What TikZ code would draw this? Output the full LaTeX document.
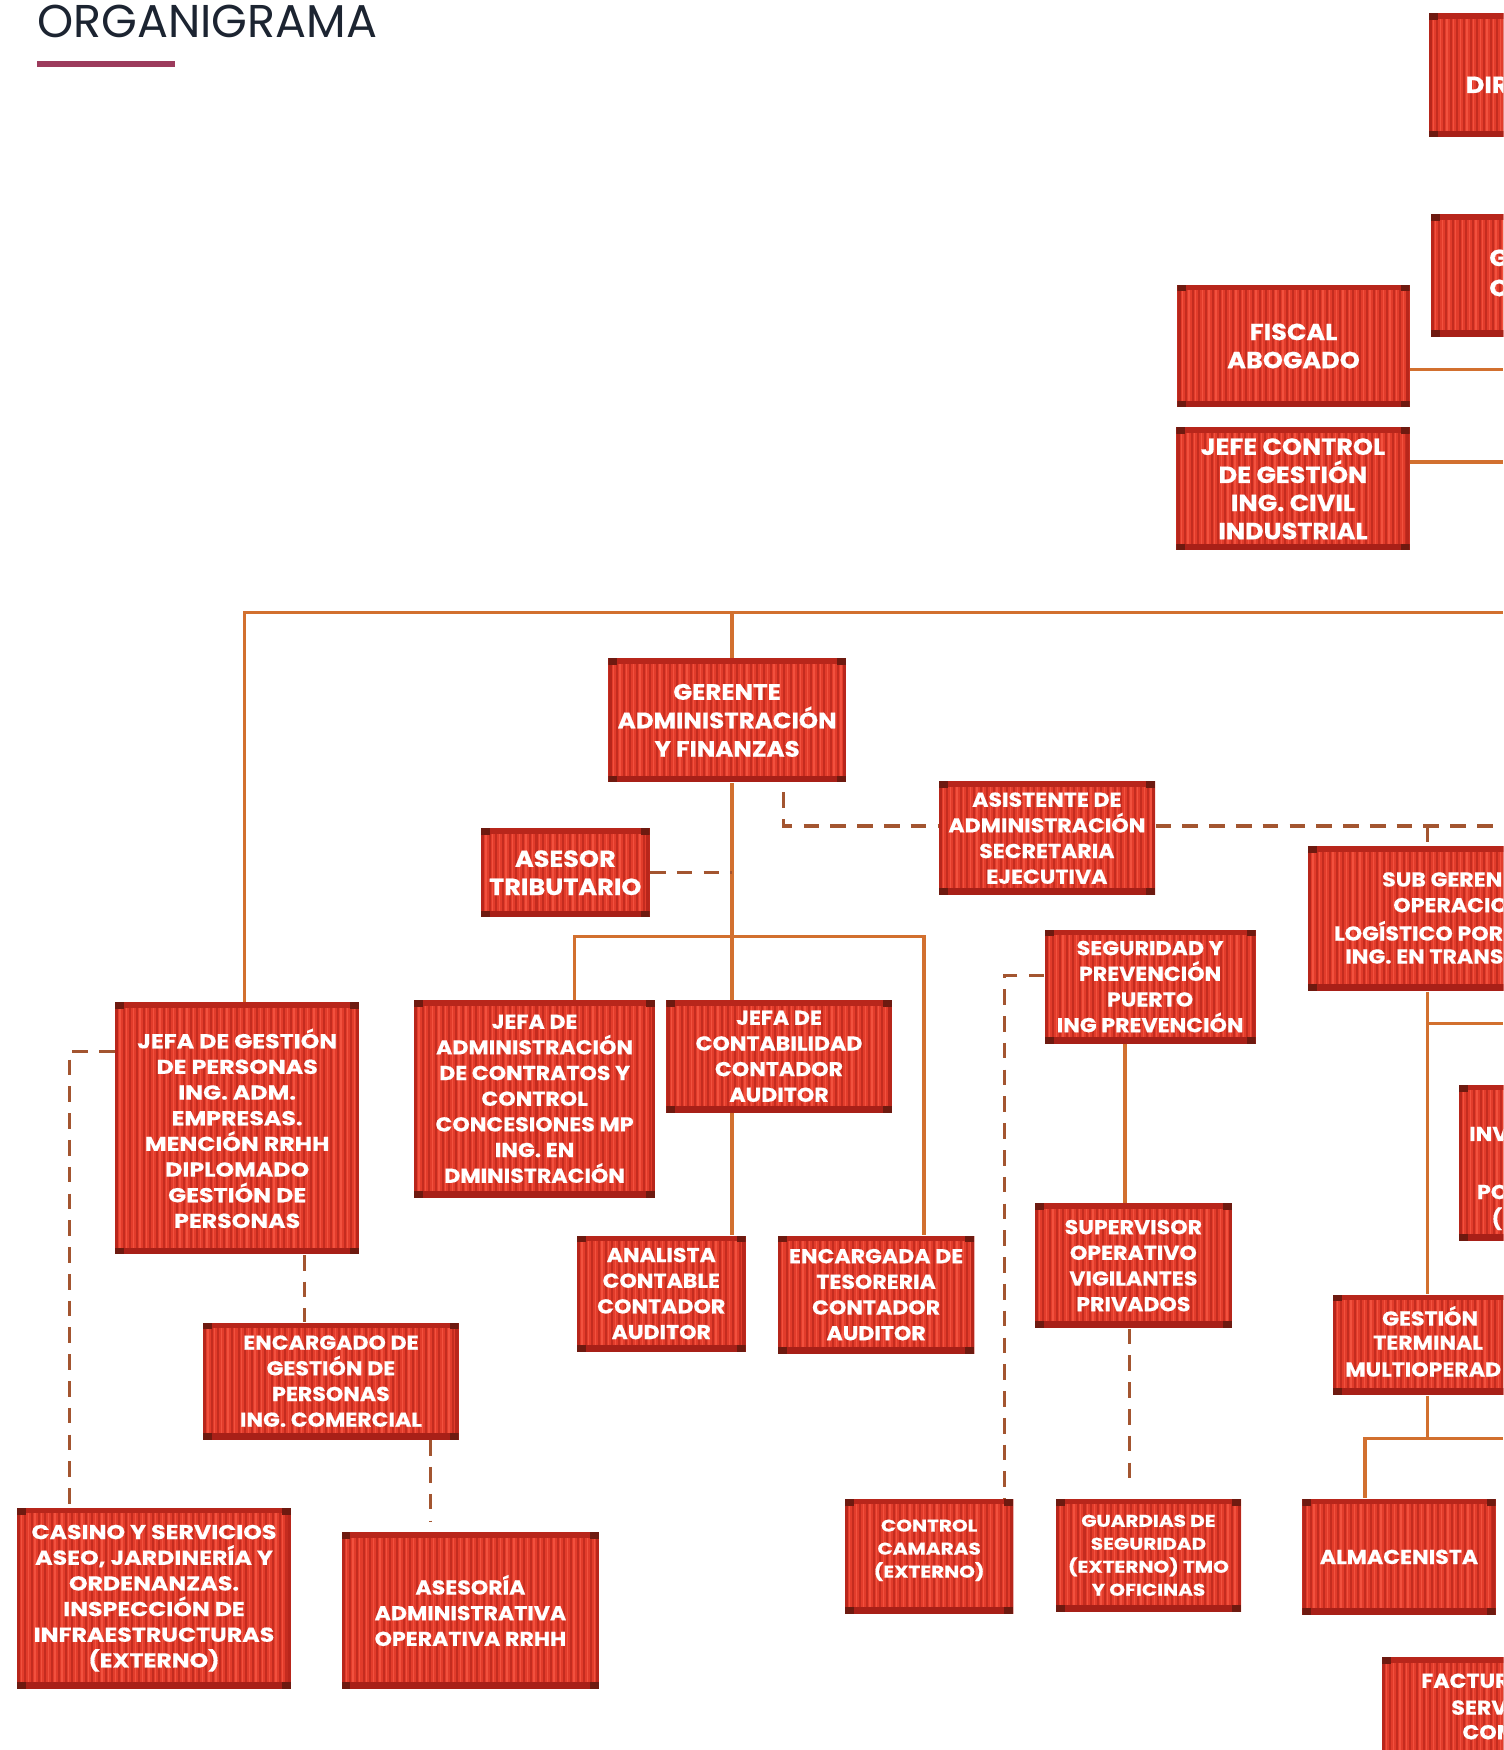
\documentclass[tikz,border=0pt]{standalone}
\usepackage{fontspec}
\setmainfont{Poppins}
\newfontfamily\boxfont{Poppins}[FakeStretch=1.1,BoldFeatures={FakeBold=0.5}]
\newfontfamily\boxfontw{Poppins}[FakeStretch=1.18,BoldFeatures={FakeBold=0.5}]
\usetikzlibrary{calc}
\definecolor{cFill}{HTML}{E23C2B}
\definecolor{cDark}{HTML}{C42C1F}
\definecolor{cLight}{HTML}{F2513E}
\definecolor{cTop}{HTML}{B8261B}
\definecolor{cBot}{HTML}{A82018}
\definecolor{cCorner}{HTML}{6E1A10}
\definecolor{cLine}{HTML}{D2702F}
\definecolor{cDash}{HTML}{A35530}
\definecolor{cTitle}{HTML}{1C2431}
\definecolor{cBar}{HTML}{9C3B5C}
\newcommand\cbox[7][]{%
  \node[cont,#1,minimum width={(#5-#3)*0.5pt},minimum height={(#6-#4)*0.5pt}] (#2) at ({(#3+#5)/2},{(#4+#6)/2}) {#7};}
\tikzset{
  cont/.style={draw=none, fill=cFill, inner sep=0pt, align=center, text=white,
    font=\boxfont\bfseries\fontsize{9}{11.5}\selectfont,
    path picture={
      \foreach \k in {0,...,46}{
        \fill[cDark] ($(path picture bounding box.south west)+(\k*3pt+0.4pt,0)$) rectangle ($(path picture bounding box.north west)+(\k*3pt+1.3pt,0)$);
        \fill[cLight] ($(path picture bounding box.south west)+(\k*3pt+1.9pt,0)$) rectangle ($(path picture bounding box.north west)+(\k*3pt+2.5pt,0)$);
      }
      \fill[cTop] (path picture bounding box.north west) rectangle ($(path picture bounding box.north east)+(0,-2.5pt)$);
      \fill[cBot] (path picture bounding box.south west) rectangle ($(path picture bounding box.south east)+(0,3pt)$);
      \fill[cTop] (path picture bounding box.south west) rectangle ($(path picture bounding box.north west)+(1.5pt,0)$);
      \fill[cTop] (path picture bounding box.south east) rectangle ($(path picture bounding box.north east)+(-1.5pt,0)$);
      \fill[cCorner] (path picture bounding box.north west) rectangle ($(path picture bounding box.north west)+(4pt,-3pt)$);
      \fill[cCorner] (path picture bounding box.north east) rectangle ($(path picture bounding box.north east)+(-4pt,-3pt)$);
      \fill[cCorner] (path picture bounding box.south west) rectangle ($(path picture bounding box.south west)+(4pt,3pt)$);
      \fill[cCorner] (path picture bounding box.south east) rectangle ($(path picture bounding box.south east)+(-4pt,3pt)$);
    }},
  big/.style={font=\boxfont\bfseries\fontsize{10.4}{12.6}\selectfont},
  ger/.style={font=\boxfont\bfseries\fontsize{10}{12.75}\selectfont},
  wide/.style={font=\boxfontw\bfseries\fontsize{9}{11.5}\selectfont},
  small/.style={font=\boxfontw\bfseries\fontsize{7.6}{10.3}\selectfont},
  frag/.style={anchor=west, inner sep=0pt, text=white, font=\boxfont\bfseries\fontsize{9}{11.5}\selectfont},
  fragbig/.style={frag, font=\boxfont\bfseries\fontsize{10.4}{12.6}\selectfont},
  conn/.style={draw=cLine, line width=1.5pt},
  dconn/.style={draw=cDash, line width=1.5pt, dash pattern=on 7pt off 5pt},
}
\begin{document}
\begin{tikzpicture}[x=0.5pt,y=-0.5pt]
\useasboundingbox (0,0) rectangle (1347,1568);
\fill[white] (0,0) rectangle (1347,1568);
\clip (0,0) rectangle (1347,1568);
% title
\node[anchor=south west, inner sep=0pt, text=cTitle, font=\fontsize{20.6}{24}\selectfont] (title) at (33,34) {ORGANIGRAMA};
\fill[cBar] (33,55) rectangle (157,60);
% coordinates
\coordinate (tl) at (219,549);
\coordinate (tg) at (656,549);
\coordinate (tr) at (1347,549);
\coordinate (h1) at (515,839);
\coordinate (h2) at (828,839);
\coordinate (a1) at (702,710);
\coordinate (a2) at (702,740);
\coordinate (ar) at (1347,740);
\coordinate (sx) at (1279,740);
\coordinate (f1) at (1347,331);
\coordinate (f2) at (1347,414);
\coordinate (d1) at (62,942);
\coordinate (d2) at (273,1150);
\coordinate (d3) at (386,1300);
\coordinate (d4) at (900,874);
\coordinate (s1) at (1008,1000);
\coordinate (d5) at (1012,1250);
\coordinate (b1) at (1279,917);
\coordinate (b1r) at (1347,917);
\coordinate (b2) at (1279,1289);
\coordinate (b2l) at (1223,1289);
\coordinate (b2r) at (1347,1289);
% boxes
\cbox{dir}{1280}{12}{1500}{123}{}
\cbox{gen}{1282}{192}{1500}{302}{}
\cbox[big]{fis}{1055}{255}{1263}{365}{FISCAL\\ABOGADO}
\cbox[big]{jcg}{1054}{383}{1263}{493}{JEFE CONTROL\\DE GESTIÓN\\ING. CIVIL\\INDUSTRIAL}
\cbox[ger]{ger}{545}{590}{758}{701}{GERENTE\\ADMINISTRACIÓN\\Y FINANZAS}
\cbox[big]{ases}{431}{742}{582}{822}{ASESOR\\TRIBUTARIO}
\cbox{asis}{841}{700}{1035}{802}{ASISTENTE DE\\ADMINISTRACIÓN\\SECRETARIA\\EJECUTIVA}
\cbox{sub}{1172}{758}{1500}{888}{}
\cbox{jadm}{371}{896}{587}{1073}{JEFA DE\\ADMINISTRACIÓN\\DE CONTRATOS Y\\CONTROL\\CONCESIONES MP\\ING. EN\\DMINISTRACIÓN}
\cbox{jcont}{597}{896}{799}{997}{JEFA DE\\CONTABILIDAD\\CONTADOR\\AUDITOR}
\cbox[wide]{jgp}{103}{898}{322}{1124}{JEFA DE GESTIÓN\\DE PERSONAS\\ING. ADM.\\EMPRESAS.\\MENCIÓN RRHH\\DIPLOMADO\\GESTIÓN DE\\PERSONAS}
\cbox{seg}{936}{833}{1125}{935}{SEGURIDAD Y\\PREVENCIÓN\\PUERTO\\ING PREVENCIÓN}
\cbox{inv}{1307}{972}{1500}{1112}{}
\cbox{sup}{927}{1078}{1104}{1190}{SUPERVISOR\\OPERATIVO\\VIGILANTES\\PRIVADOS}
\cbox{anal}{517}{1107}{668}{1211}{ANALISTA\\CONTABLE\\CONTADOR\\AUDITOR}
\cbox{teso}{697}{1107}{873}{1213}{ENCARGADA DE\\TESORERIA\\CONTADOR\\AUDITOR}
\cbox{encg}{182}{1185}{411}{1290}{ENCARGADO DE\\GESTIÓN DE\\PERSONAS\\ING. COMERCIAL}
\cbox{gt}{1194}{1160}{1500}{1250}{}
\cbox[wide]{cas}{15}{1351}{261}{1513}{CASINO Y SERVICIOS\\ASEO, JARDINERÍA Y\\ORDENANZAS.\\INSPECCIÓN DE\\INFRAESTRUCTURAS\\(EXTERNO)}
\cbox{aso}{306}{1373}{537}{1513}{ASESORÍA\\ADMINISTRATIVA\\OPERATIVA RRHH}
\cbox[small]{cam}{757}{1343}{908}{1446}{CONTROL\\CAMARAS\\(EXTERNO)\\[-3.3pt]}
\cbox[small]{gua}{946}{1343}{1112}{1444}{GUARDIAS DE\\SEGURIDAD\\(EXTERNO) TMO\\Y OFICINAS}
\cbox{alm}{1167}{1343}{1340}{1447}{ALMACENISTA}
\cbox{fac}{1238}{1485}{1500}{1600}{}
% visible text fragments of boxes cut by the edge
\node[fragbig] (dirt) at (1313,76) {DIR};
\node[fragbig] (gent1) at (1334,231) {G};
\node[fragbig] (gent2) at (1334,258) {O};
\node[frag] (subt1) at (1238,788) {SUB GEREN};
\node[frag] (subt2) at (1248,811) {OPERACION};
\node[frag] (subt3) at (1195,834) {LOGÍSTICO POR};
\node[frag] (subt4) at (1205,857) {ING. EN TRANS};
\node[frag] (invt1) at (1316,1016) {INV};
\node[frag] (invt2) at (1323,1068) {PO};
\node[frag] (invt3) at (1336,1092) {(};
\node[frag] (gtt1) at (1238,1179) {GESTIÓN};
\node[frag] (gtt2) at (1230,1203) {TERMINAL};
\node[frag] (gtt3) at (1205,1227) {MULTIOPERAD};
\node[frag] (fact1) at (1273,1506) {FACTUR};
\node[frag] (fact2) at (1300,1530) {SERV};
\node[frag] (fact3) at (1310,1552) {COM};
% solid connectors
\draw[conn] (tl |- jgp.north) -- (tl) -- (tr);
\draw[conn] (tg) -- (tg |- ger.north);
\draw[conn] (tg |- ger.south) -- (tg |- jcont.north);
\draw[conn] (h1 |- jadm.north) -- (h1) -- (h2) -- (h2 |- teso.north);
\draw[conn] (tg |- jcont.south) -- (tg |- anal.north);
\draw[conn] (f1 -| fis.east) -- (f1);
\draw[conn] (f2 -| jcg.east) -- (f2);
\draw[conn] (s1 |- seg.south) -- (s1 |- sup.north);
\draw[conn] (sx |- sub.south) -- (sx |- gt.north);
\draw[conn] (b1) -- (b1r);
\draw[conn] (sx |- gt.south) -- (b2) -- (b2l) -- (b2l |- alm.north);
\draw[conn] (b2) -- (b2r);
% dashed connectors
\draw[dconn] (ases.east) -- (ases.east -| tg);
\draw[dconn] (a1) -- (a2) -- (a2 -| asis.west);
\draw[dconn] (a2 -| asis.east) -- (ar);
\draw[dconn] (sx) -- (sx |- sub.north);
\draw[dconn] (d1 -| jgp.west) -- (d1) -- (d1 |- cas.north);
\draw[dconn] (d2 |- jgp.south) -- (d2 |- encg.north);
\draw[dconn] (d3 |- encg.south) -- ([yshift=5pt]d3 |- aso.north);
\draw[dconn] (d4 -| seg.west) -- (d4) -- (d4 |- cam.north);
\draw[dconn] (d5 |- sup.south) -- ([yshift=6pt]d5 |- gua.north);
\end{tikzpicture}
\end{document}
